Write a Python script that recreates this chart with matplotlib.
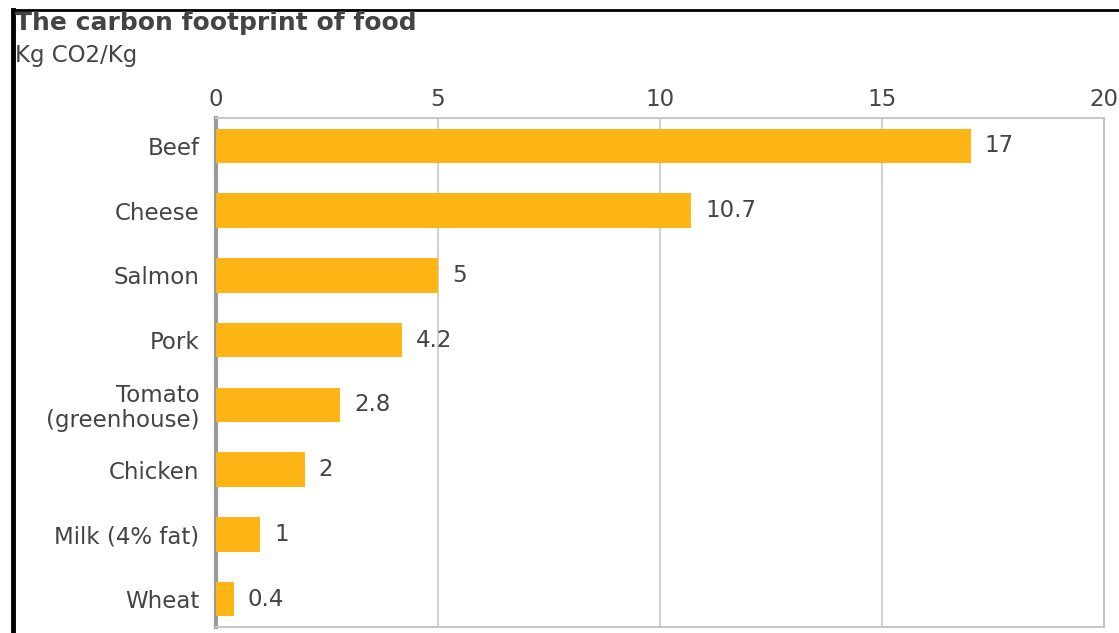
import numpy as np
import matplotlib.pyplot as plt
from matplotlib.lines import Line2D

# data
foods  = ['Beef', 'Cheese', 'Salmon', 'Pork', 'Tomato\n(greenhouse)',
          'Chicken', 'Milk (4% fat)', 'Wheat']
co2    = [17, 10.7, 5, 4.2, 2.8, 2, 1, 0.4]
labels = ['17', '10.7', '5', '4.2', '2.8', '2', '1', '0.4']
ticks  = [0, 5, 10, 15, 20]

bar_col  = '#FDB515'
text_col = '#444444'
fs = 16.5

fig = plt.figure(figsize=(11.19, 6.33), dpi=100)
ax = fig.add_axes([0.193, 0.0095, 0.7936, 0.804])

y = np.arange(len(foods))
ax.barh(y, co2, height=0.53, color=bar_col, zorder=3)

for yi, v, s in zip(y, co2, labels):
    ax.annotate(s, (v, yi), xytext=(10, 0), textcoords='offset points',
                va='center', ha='left', fontsize=fs, color=text_col)

ax.set_xlim(0, 20)
ax.set_ylim(len(foods) - 0.57, -0.43)
ax.set_yticks(y)
ax.set_yticklabels(foods, fontsize=fs, color=text_col, linespacing=1.1)
ax.set_xticks(ticks)
ax.set_xticklabels([str(t) for t in ticks], fontsize=fs, color=text_col)
ax.xaxis.tick_top()
ax.tick_params(axis='both', length=0)
ax.tick_params(axis='y', pad=12)
ax.tick_params(axis='x', pad=5)
ax.grid(axis='x', color='#c8c8c8', lw=1.2, zorder=0)

for side in ['top', 'right', 'bottom']:
    ax.spines[side].set_color('#c8c8c8')
    ax.spines[side].set_linewidth(1.5)
ax.spines['left'].set_color('#999999')
ax.spines['left'].set_linewidth(3)

# title block
fig.text(0.013, 0.963, 'The carbon footprint of food', fontsize=18,
         fontweight='bold', color=text_col, va='center')
fig.text(0.013, 0.912, 'Kg CO2/Kg', fontsize=fs, color=text_col, va='center')

# black frame top and left
fig.add_artist(Line2D([0.012, 1.0], [0.984, 0.984], color='black', lw=2,
                      transform=fig.transFigure))
fig.add_artist(Line2D([0.012, 0.012], [0.0, 0.984], color='black', lw=3.5,
                      transform=fig.transFigure))

fig.savefig('out.png', dpi=100)
